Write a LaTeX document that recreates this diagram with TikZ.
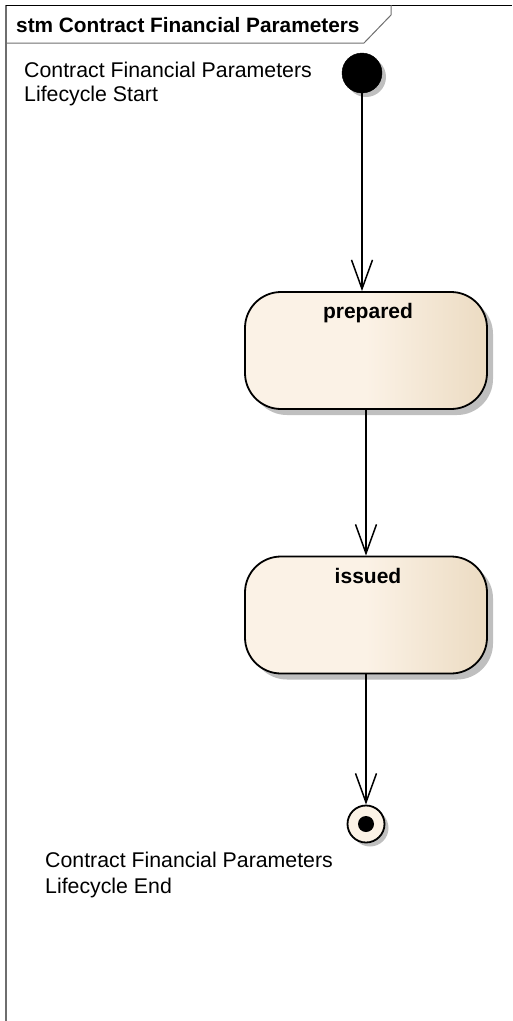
\documentclass[tikz,border=0pt]{standalone}
\usepackage{fontspec}
\setmainfont{Liberation Sans}
\usetikzlibrary{arrows.meta,shadows}
\definecolor{creamA}{RGB}{251,242,230}
\definecolor{creamB}{RGB}{236,219,194}
\definecolor{frameg}{RGB}{110,110,110}
\pgfdeclarehorizontalshading{statefill}{100bp}{color(0bp)=(creamA); color(25bp)=(creamA); color(50bp)=(creamA); color(75bp)=(creamB); color(100bp)=(creamB)}
\tikzset{
  lbl/.style={font=\fontsize{21.3}{24}\selectfont, inner sep=0pt, anchor=base west},
  sname/.style={font=\fontsize{21}{24}\selectfont\bfseries, inner sep=0pt, anchor=base},
  state/.style={draw=black, line width=1.8pt, rounded corners=36pt, minimum width=242pt, minimum height=117pt, shading=statefill, inner sep=0pt,
    drop shadow={shadow xshift=6pt, shadow yshift=-6pt, fill=black!25, opacity=1}},
  initial/.style={circle, fill=black, draw=black, minimum size=40pt, inner sep=0pt,
    drop shadow={shadow xshift=4pt, shadow yshift=-4pt, fill=black!25, opacity=1}},
  final/.style={circle, fill=creamA, draw=black, line width=1.8pt, minimum size=37pt, inner sep=0pt,
    drop shadow={shadow xshift=4pt, shadow yshift=-4pt, fill=black!25, opacity=1}},
  dot/.style={circle, fill=black, minimum size=16pt, inner sep=0pt},
  trans/.style={draw=black, line width=1.5pt, -{Straight Barb[length=29pt, width=21pt, line width=1.5pt]}},
}
\begin{document}
\begin{tikzpicture}[x=1pt, y=-1pt]
\useasboundingbox (0,0) rectangle (512,1021);
% frame
\draw[frameg, line width=2pt] (6,1021) -- (6,5);
\draw[black, line width=1pt] (6,5) -- (512,5);
\draw[frameg, line width=1pt] (6,43) -- (364,43) -- (391,15) -- (391,5);
\node[font=\fontsize{20.8}{24}\selectfont\bfseries, inner sep=0pt, anchor=base west] (title) at (16,32) {stm Contract Financial Parameters};
% labels
\node[lbl] (startA) at (24,77) {Contract Financial Parameters};
\node[lbl] (startB) at (24,101) {Lifecycle Start};
\node[lbl] (endA) at (45,867) {Contract Financial Parameters};
\node[lbl] (endB) at (45,893) {Lifecycle End};
% states
\node[initial] (start) at (362,73) {};
\node[state] (prepared) at (366,350.5) {};
\node[sname] (preparedname) at (368,318) {prepared};
\node[state] (issued) at (366,615) {};
\node[sname] (issuedname) at (368,583) {issued};
\node[final] (end) at (366,824) {};
\node[dot] (enddot) at (end) {};
% transitions
\draw[trans] (start) -- (start |- prepared.north);
\draw[trans] (prepared.south) -- (issued.north);
\draw[trans] (issued.south) -- (end.north);
\end{tikzpicture}
\end{document}
